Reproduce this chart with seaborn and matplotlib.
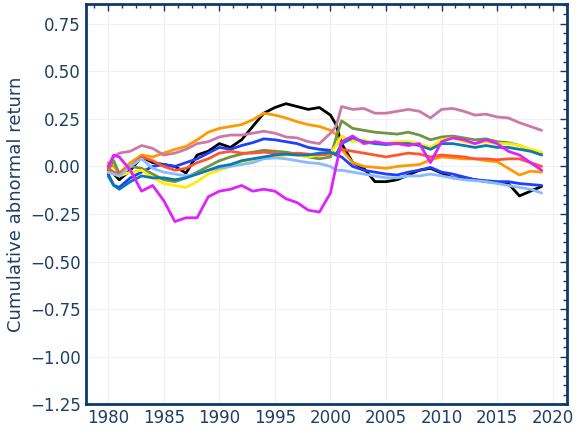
import numpy as np
import pandas as pd
import matplotlib
matplotlib.use("Agg")
import matplotlib.pyplot as plt
from matplotlib.ticker import MultipleLocator
import seaborn as sns

# values
years = [1980, 1980.5] + list(range(1981, 2001)) + [2000.5] + list(range(2001, 2020))
years = sorted(years)

black = [-0.02, -0.04, -0.07, -0.02, 0.05, 0.02, 0.01, 0.0, -0.035, 0.06,
         0.08, 0.12, 0.10, 0.14, 0.21, 0.28, 0.31, 0.33, 0.315, 0.30,
         0.31, 0.27, 0.22, 0.12, 0.02, -0.01, -0.08, -0.08, -0.07, -0.045,
         -0.02, -0.01, -0.035, -0.06, -0.06, -0.07, -0.08, -0.085, -0.09, -0.155,
         -0.13, -0.105]
orange = [0.02, 0.0, -0.035, 0.02, 0.06, 0.05, 0.07, 0.09, 0.105, 0.14,
          0.18, 0.20, 0.21, 0.22, 0.245, 0.28, 0.27, 0.255, 0.235, 0.22,
          0.21, 0.19, 0.17, 0.09, 0.02, 0.0, -0.005, -0.01, 0.0, 0.005,
          0.01, 0.035, 0.05, 0.045, 0.04, 0.04, 0.03, 0.025, -0.01, -0.045,
          -0.025, -0.03]
pink = [0.0, 0.05, 0.07, 0.08, 0.11, 0.095, 0.06, 0.07, 0.09, 0.12,
        0.13, 0.155, 0.165, 0.165, 0.175, 0.185, 0.175, 0.155, 0.15, 0.13,
        0.12, 0.175, 0.21, 0.315, 0.30, 0.305, 0.28, 0.28, 0.29, 0.30,
        0.29, 0.255, 0.30, 0.305, 0.29, 0.27, 0.275, 0.26, 0.255, 0.23,
        0.21, 0.19]
blue = [-0.04, -0.10, -0.11, -0.06, -0.03, 0.0, 0.01, 0.0, 0.02, 0.04,
        0.07, 0.10, 0.09, 0.11, 0.125, 0.145, 0.14, 0.13, 0.12, 0.10,
        0.09, 0.085, 0.06, 0.05, 0.0, -0.02, -0.03, -0.04, -0.045, -0.03,
        -0.02, -0.005, -0.03, -0.04, -0.055, -0.07, -0.075, -0.08, -0.08, -0.09,
        -0.095, -0.10]
green = [-0.02, 0.03, -0.04, 0.0, -0.01, -0.04, -0.07, -0.08, -0.06, -0.03,
         0.0, 0.03, 0.05, 0.065, 0.075, 0.085, 0.08, 0.075, 0.065, 0.05,
         0.04, 0.05, 0.15, 0.24, 0.20, 0.19, 0.18, 0.175, 0.17, 0.18,
         0.165, 0.14, 0.155, 0.16, 0.15, 0.14, 0.145, 0.13, 0.125, 0.11,
         0.085, 0.065]
yellow = [-0.03, -0.04, -0.05, -0.03, -0.02, -0.06, -0.09, -0.10, -0.11, -0.08,
          -0.04, -0.02, 0.0, 0.02, 0.03, 0.05, 0.05, 0.06, 0.06, 0.05,
          0.06, 0.07, 0.11, 0.16, 0.13, 0.14, 0.12, 0.12, 0.13, 0.13,
          0.12, 0.10, 0.14, 0.15, 0.13, 0.12, 0.13, 0.12, 0.12, 0.11,
          0.09, 0.075]
red = [-0.01, -0.03, -0.04, 0.0, 0.05, 0.03, 0.0, -0.02, -0.01, 0.02,
       0.04, 0.07, 0.08, 0.07, 0.07, 0.075, 0.07, 0.065, 0.07, 0.065,
       0.06, 0.065, 0.07, 0.09, 0.08, 0.07, 0.06, 0.05, 0.06, 0.07,
       0.065, 0.05, 0.06, 0.055, 0.05, 0.04, 0.04, 0.035, 0.04, 0.04,
       0.02, 0.0]
lightblue = [-0.03, -0.04, -0.05, 0.0, 0.04, -0.01, -0.03, -0.04, -0.05, -0.04,
             -0.02, -0.01, 0.0, 0.01, 0.02, 0.04, 0.045, 0.04, 0.03, 0.02,
             0.015, 0.0, -0.02, -0.02, -0.03, -0.04, -0.05, -0.06, -0.06, -0.05,
             -0.05, -0.04, -0.05, -0.06, -0.07, -0.075, -0.08, -0.09, -0.10, -0.11,
             -0.12, -0.14]
teal = [-0.05, -0.10, -0.12, -0.08, -0.05, -0.06, -0.06, -0.07, -0.06, -0.04,
        -0.02, 0.0, 0.01, 0.03, 0.04, 0.05, 0.06, 0.065, 0.06, 0.06,
        0.07, 0.075, 0.06, 0.12, 0.15, 0.13, 0.12, 0.115, 0.12, 0.12,
        0.11, 0.09, 0.12, 0.12, 0.11, 0.10, 0.11, 0.10, 0.10, 0.09,
        0.08, 0.06]
magenta = [0.0, 0.06, 0.05, -0.02, -0.13, -0.10, -0.18, -0.29, -0.27, -0.27,
           -0.16, -0.13, -0.12, -0.10, -0.13, -0.12, -0.13, -0.17, -0.19, -0.23,
           -0.24, -0.14, 0.0, 0.13, 0.16, 0.12, 0.13, 0.12, 0.12, 0.11,
           0.12, 0.02, 0.13, 0.15, 0.14, 0.12, 0.14, 0.12, 0.08, 0.06,
           0.02, -0.02]

series = {"black": black, "orange": orange, "pink": pink, "blue": blue,
          "green": green, "yellow": yellow, "red": red, "lightblue": lightblue,
          "teal": teal, "magenta": magenta}
colors = ["#000000", "#ff9900", "#cc79a7", "#1f3fff", "#6f9445",
          "#ffee00", "#ff5533", "#88bbff", "#0a7ab0", "#dd22ff"]

df = pd.concat([pd.DataFrame({"year": years, "car": v, "series": k})
                for k, v in series.items()], ignore_index=True)

navy = "#0d3a6b"
text_col = "#1f3f66"

sns.set_style("white")
fig = plt.figure(figsize=(5.77, 4.29), dpi=100)
ax = fig.add_axes([0.149, 0.058, 0.834, 0.933])

sns.lineplot(data=df, x="year", y="car", hue="series", palette=colors,
             linewidth=2, legend=False, ax=ax)

ax.set_xlim(1978, 2021.3)
ax.set_ylim(-1.25, 0.855)
ax.xaxis.set_major_locator(MultipleLocator(5))
ax.xaxis.set_minor_locator(MultipleLocator(1.25))
ax.yaxis.set_major_locator(MultipleLocator(0.25))
ax.yaxis.set_minor_locator(MultipleLocator(0.05))
ax.grid(True, which="major", color="#f0f0f0", linewidth=0.8)

ax.tick_params(which="both", direction="in", left=False, bottom=False,
               right=True, top=True, color=navy, labelcolor=text_col,
               labelsize=12)
ax.tick_params(which="major", length=5, width=1)
ax.tick_params(which="minor", length=3, width=1)

for s in ax.spines.values():
    s.set_color(navy)
    s.set_linewidth(2)

ax.set_xlabel("")
ax.set_ylabel("Cumulative abnormal return", color=text_col, fontsize=13)

plt.savefig("out.png", dpi=100)
